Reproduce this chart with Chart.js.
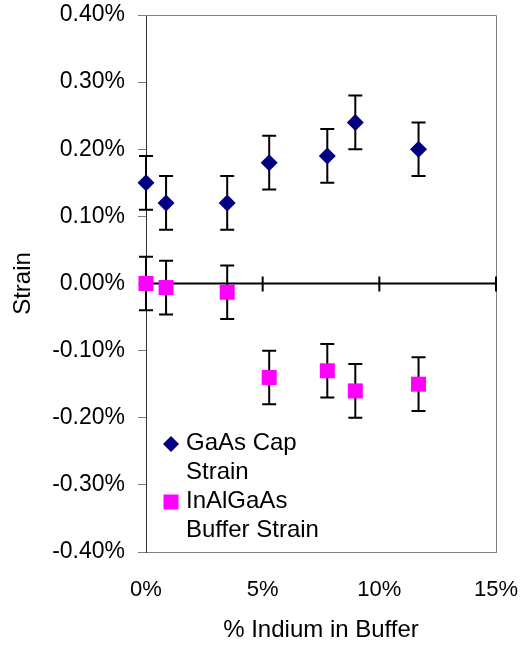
<!DOCTYPE html>
<html>
<head>
<meta charset="utf-8">
<script src="https://cdn.jsdelivr.net/npm/chart.js@4/dist/chart.umd.min.js"></script>
<style>
  html, body { margin: 0; padding: 0; background: #fff; }
  #cont { width: 520px; height: 645px; }
</style>
</head>
<body>
<div id="cont"><canvas id="grafica"></canvas></div>
<script>
/* Datos: % de indio en el buffer vs. strain */
const indio = [0, 0.86, 3.48, 5.28, 7.77, 8.97, 11.68];
const strainCap = [0.15, 0.12, 0.12, 0.18, 0.19, 0.24, 0.20];
const strainBuffer = [0.00, -0.006, -0.013, -0.14, -0.13, -0.16, -0.15];
const errorCap = [0.04, 0.04, 0.04, 0.04, 0.04, 0.04, 0.04];
const errorBuffer = [0.04, 0.04, 0.04, 0.04, 0.04, 0.04, 0.04];
const ticksX = [0, 5, 10, 15];
const ticksY = [-0.4, -0.3, -0.2, -0.1, 0, 0.1, 0.2, 0.3, 0.4];
const nombres = [['GaAs Cap', 'Strain'], ['InAlGaAs', 'Buffer Strain']];

const fuente = '"Liberation Sans", Arial, sans-serif';

function puntos(xs, ys) {
  return xs.map((v, i) => ({ x: v, y: ys[i] }));
}

// Barras de error (se dibujan antes que los marcadores)
const barrasError = {
  id: 'barrasError',
  beforeDatasetsDraw(chart) {
    const { ctx, scales: { x, y } } = chart;
    const errores = [errorCap, errorBuffer];
    ctx.save();
    ctx.strokeStyle = '#000';
    ctx.lineWidth = 2;
    chart.data.datasets.forEach((ds, i) => {
      ds.data.forEach((p, j) => {
        const px = x.getPixelForValue(p.x);
        const arriba = y.getPixelForValue(p.y + errores[i][j]);
        const abajo = y.getPixelForValue(p.y - errores[i][j]);
        ctx.beginPath();
        ctx.moveTo(px, arriba); ctx.lineTo(px, abajo);
        ctx.moveTo(px - 7, arriba); ctx.lineTo(px + 7, arriba);
        ctx.moveTo(px - 7, abajo); ctx.lineTo(px + 7, abajo);
        ctx.stroke();
      });
    });
    ctx.restore();
  }
};

// Marco gris y eje horizontal en y = 0 con sus marcas
const marco = {
  id: 'marco',
  beforeDatasetsDraw(chart) {
    const { ctx, chartArea: a, scales: { x, y } } = chart;
    ctx.save();
    ctx.strokeStyle = '#808080';
    ctx.lineWidth = 1;
    ctx.beginPath();
    ctx.moveTo(a.left, a.top + 0.5);
    ctx.lineTo(a.right + 0.5, a.top + 0.5);
    ctx.lineTo(a.right + 0.5, a.bottom);
    ctx.stroke();

    const y0 = y.getPixelForValue(0);
    ctx.strokeStyle = '#000';
    ctx.lineWidth = 2;
    ctx.beginPath();
    ctx.moveTo(a.left, y0);
    ctx.lineTo(a.right, y0);
    ticksX.forEach(v => {
      const px = x.getPixelForValue(v);
      ctx.moveTo(px, y0 - 7);
      ctx.lineTo(px, y0 + 8);
    });
    ctx.stroke();
    ctx.restore();
  }
};

// Leyenda dentro del area, abajo a la izquierda
const leyenda = {
  id: 'leyenda',
  afterDraw(chart) {
    const { ctx, chartArea: a } = chart;
    ctx.save();
    ctx.font = '24px ' + fuente;
    ctx.fillStyle = '#000';
    ctx.textBaseline = 'middle';
    const tx = a.left + 40;
    const filas = [a.top + 428, a.top + 486];
    nombres.forEach((n, i) => {
      ctx.fillText(n[0], tx, filas[i]);
      ctx.fillText(n[1], tx, filas[i] + 29);
    });
    const mx = a.left + 25;
    // rombo
    ctx.fillStyle = '#000080';
    ctx.beginPath();
    ctx.moveTo(mx, filas[0] + 1 - 8);
    ctx.lineTo(mx + 8, filas[0] + 1);
    ctx.lineTo(mx, filas[0] + 1 + 8);
    ctx.lineTo(mx - 8, filas[0] + 1);
    ctx.closePath();
    ctx.fill();
    // cuadro
    ctx.fillStyle = '#FF00FF';
    ctx.fillRect(mx - 7.5, filas[1] + 1 - 7.5, 15, 15);
    ctx.restore();
  }
};

const ctx = document.getElementById('grafica').getContext('2d');

new Chart(ctx, {
  type: 'scatter',
  data: {
    datasets: [
      {
        label: 'GaAs Cap Strain',
        data: puntos(indio, strainCap),
        pointStyle: 'rectRot',
        pointRadius: 8.5,
        pointHoverRadius: 8.5,
        backgroundColor: '#000080',
        borderColor: '#000080',
        borderWidth: 0,
        clip: false
      },
      {
        label: 'InAlGaAs Buffer Strain',
        data: puntos(indio, strainBuffer),
        pointStyle: 'rect',
        pointRadius: 10.6,
        pointHoverRadius: 10.6,
        backgroundColor: '#FF00FF',
        borderColor: '#FF00FF',
        borderWidth: 0,
        clip: false
      }
    ]
  },
  options: {
    responsive: true,
    maintainAspectRatio: false,
    animation: false,
    events: [],
    layout: { padding: { top: 15, right: 24, left: 0, bottom: 0 } },
    plugins: {
      legend: { display: false },
      tooltip: { enabled: false }
    },
    scales: {
      x: {
        type: 'linear',
        min: ticksX[0],
        max: ticksX[ticksX.length - 1],
        afterFit: s => { s.height = 93; s.paddingLeft = 0; s.paddingRight = 0; },
        afterBuildTicks: s => { s.ticks = ticksX.map(v => ({ value: v })); },
        grid: { display: false },
        border: { display: true, color: '#808080', width: 1 },
        ticks: {
          padding: 17,
          color: '#000',
          font: { family: fuente, size: 22 },
          callback: v => v + '%'
        },
        title: {
          display: true,
          text: '% Indium in Buffer',
          color: '#000',
          font: { family: fuente, size: 24 },
          padding: { top: 0, bottom: 0 }
        }
      },
      y: {
        min: ticksY[0],
        max: ticksY[ticksY.length - 1],
        afterFit: s => { s.width = 146; s.paddingTop = 0; s.paddingBottom = 0; },
        afterBuildTicks: s => { s.ticks = ticksY.map(v => ({ value: v })); },
        grid: { drawOnChartArea: false, tickLength: 8, color: '#808080' },
        border: { display: true, color: '#333', width: 1 },
        ticks: {
          padding: 13,
          color: '#000',
          font: { family: fuente, size: 23 },
          callback: v => v.toFixed(2) + '%'
        },
        title: {
          display: true,
          text: 'Strain',
          color: '#000',
          font: { family: fuente, size: 24 },
          padding: { top: 9, bottom: 0 }
        }
      }
    }
  },
  plugins: [marco, barrasError, leyenda]
});
</script>
</body>
</html>
